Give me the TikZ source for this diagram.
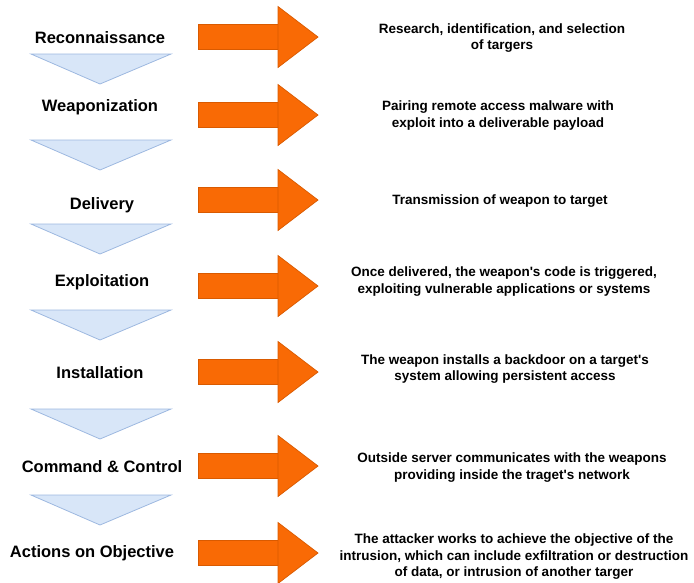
\documentclass[tikz,border=0pt]{standalone}
\usepackage{fontspec}
\setmainfont{Liberation Sans}
\definecolor{arrowfill}{HTML}{F96A05}
\definecolor{arrowline}{HTML}{D95A00}
\definecolor{chevfill}{HTML}{D8E6F8}
\definecolor{chevline}{HTML}{9DB8E0}
\begin{document}
\begin{tikzpicture}[x=1pt,y=-1pt,
  stage/.style={font=\fontsize{16.5}{19}\selectfont\bfseries, inner sep=0pt},
  desc/.style={font=\fontsize{13.5}{16.5}\selectfont\bfseries, align=center, inner sep=0pt},
  arrowpart/.style={fill=arrowfill, draw=arrowline, line width=0.7pt, line join=miter},
  chevpart/.style={fill=chevfill, draw=chevline, line width=0.8pt},
  rarrow/.pic={
    \path[arrowpart] (198,-13) rectangle (278,12);
    \path[arrowpart] (278,-30.5) -- (318,0) -- (278,30.5) -- cycle;
  },
  chevron/.pic={
    \path[chevpart] (31,0) -- (171,0) -- (100,30) -- cycle;
  }]
\useasboundingbox (0,0) rectangle (694,582);

% big orange arrows, one per stage
\pic at (0,37)  {rarrow};
\pic at (0,115) {rarrow};
\pic at (0,200) {rarrow};
\pic at (0,286) {rarrow};
\pic at (0,372) {rarrow};
\pic at (0,466) {rarrow};
\pic at (0,553) {rarrow};

% downward chevrons between stages
\pic at (0,54)  {chevron};
\pic at (0,140) {chevron};
\pic at (0,224) {chevron};
\pic at (0,310) {chevron};
\pic at (0,409) {chevron};
\pic at (0,495) {chevron};

% stage names
\node[stage] (recon)   at (100,38)  {Reconnaissance};
\node[stage] (weapon)  at (100,107) {Weaponization};
\node[stage] (deliver) at (102,205) {Delivery};
\node[stage] (exploit) at (102,282) {Exploitation};
\node[stage] (install) at (100,373) {Installation};
\node[stage] (cc)      at (102,467) {Command \& Control};
\node[stage] (actions) at (92,553)  {Actions on Objective};

% descriptions
\node[desc] (drecon)   at (502,38)    {Research, identification, and selection\\of targers};
\node[desc] (dweapon)  at (498,115.5) {Pairing remote access malware with\\exploit into a deliverable payload};
\node[desc] (ddeliver) at (500,201)   {Transmission of weapon to target};
\node[desc] (dexploit) at (504,281.5) {Once delivered, the weapon\textquotesingle s code is triggered,\\exploiting vulnerable applications or systems};
\node[desc] (dinstall) at (505,369)   {The weapon installs a backdoor on a target\textquotesingle s\\system allowing persistent access};
\node[desc] (dcc)      at (512,467.5) {Outside server communicates with the weapons\\providing inside the traget\textquotesingle s network};
\node[desc] (dactions) at (514,557)   {The attacker works to achieve the objective of the\\intrusion, which can include exfiltration or destruction\\of data, or intrusion of another targer};
\end{tikzpicture}
\end{document}
